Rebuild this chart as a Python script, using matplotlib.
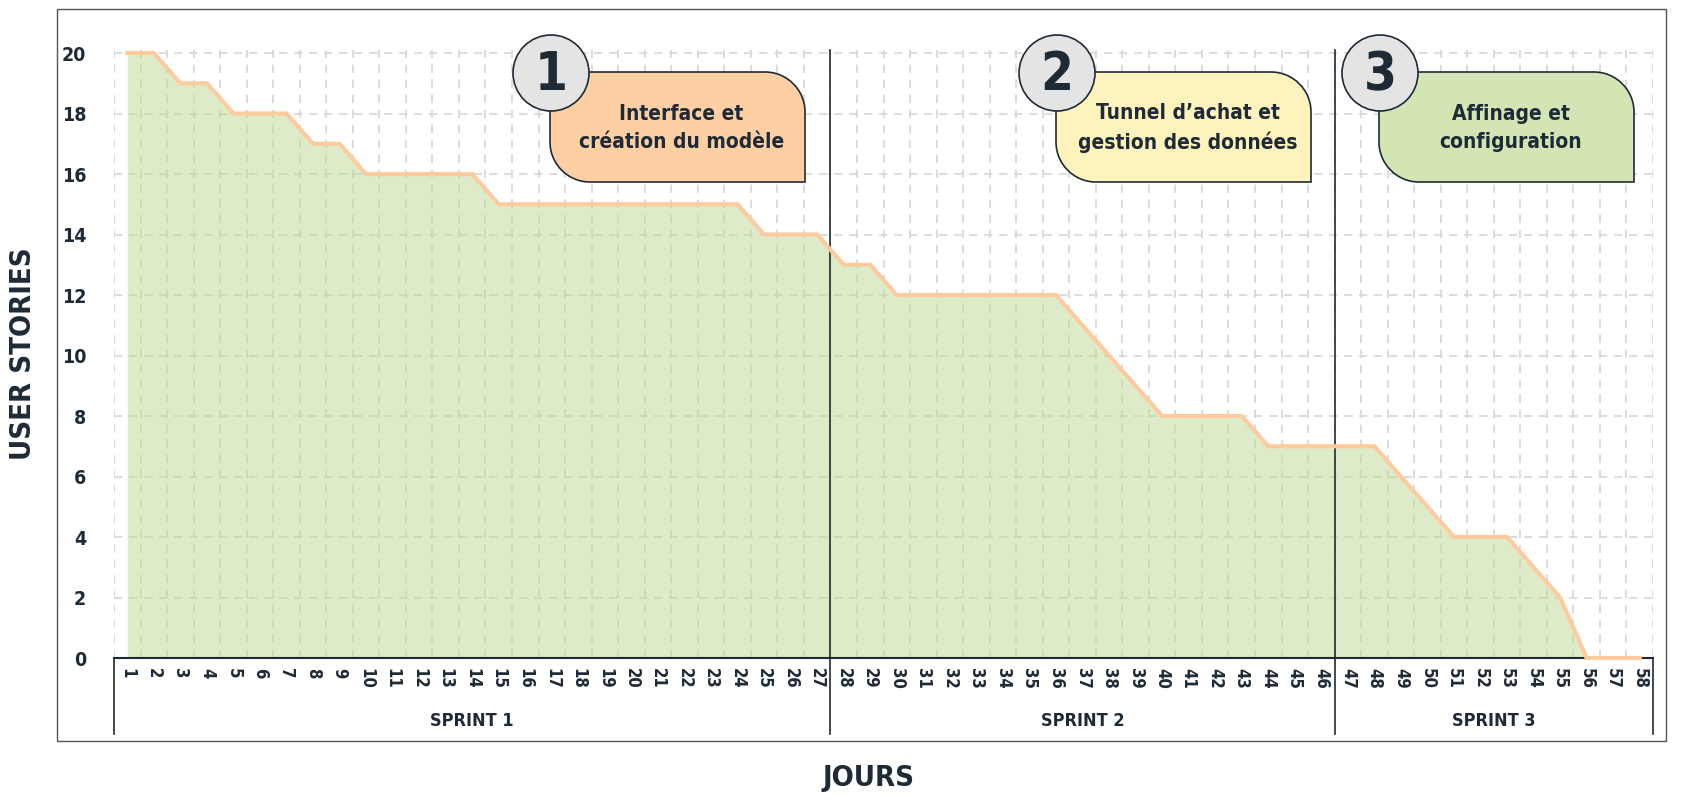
import matplotlib
matplotlib.use("Agg")
import matplotlib.pyplot as plt
import matplotlib.transforms as mtransforms
from matplotlib.patches import Rectangle, Circle, PathPatch
from matplotlib.path import Path

plt.rcParams['font.family'] = ['DejaVu Sans']
plt.rcParams['font.stretch'] = 'condensed'

# burndown data
days = list(range(1, 59))
stories = [20, 20, 19, 19, 18, 18, 18, 17, 17, 16,
           16, 16, 16, 16, 15, 15, 15, 15, 15, 15,
           15, 15, 15, 15, 14, 14, 14, 13, 13, 12,
           12, 12, 12, 12, 12, 12, 11, 10, 9, 8,
           8, 8, 8, 7, 7, 7, 7, 7, 6, 5,
           4, 4, 4, 3, 2, 0, 0, 0]

sprint_names = ["SPRINT 1", "SPRINT 2", "SPRINT 3"]
sprint_first = [1, 28, 47]
sprint_last = [27, 46, 58]

phase_nums = ["1", "2", "3"]
phase_texts = ["Interface et\ncréation du modèle",
               "Tunnel d\u2019achat et\ngestion des données",
               "Affinage et\nconfiguration"]
phase_colors = ["#fdcfa3", "#fef3bc", "#d3e5b2"]

W, H = 1685, 807
DARK = "#1f2a37"

fig = plt.figure(figsize=(W / 100, H / 100), dpi=100)
ax = fig.add_axes([114 / W, 1 - 658 / H, (1653 - 114) / W, (658 - 50) / H])

ax.fill_between(days, stories, 0, color="#bdd993", alpha=0.5, lw=0, zorder=2)
ax.plot(days, stories, color="#fdcb9e", lw=3, solid_joinstyle="miter",
        zorder=7, clip_on=False)

ax.set_xlim(0.5, 58.5)
ax.set_ylim(0, 20.1)
ax.set_yticks(range(0, 21, 2))
ax.set_xticks(days)
ax.set_xticklabels([str(d) for d in days], rotation=-90, fontsize=12,
                   fontweight="bold", color=DARK)
ax.tick_params(axis="x", length=0, pad=7)
ax.tick_params(axis="y", length=0, pad=20, labelsize=14, labelcolor=DARK)
for lab in ax.get_yticklabels():
    lab.set_fontweight("bold")

# grid
for y in range(2, 21, 2):
    ax.axhline(y, color="#d6d6d6", lw=1.2, ls=(0, (5, 4)), zorder=1)
for x in [d + 0.5 for d in [0] + days]:
    ax.axvline(x, color="#d6d6d6", lw=1.2, ls=(0, (5, 4)), zorder=1)

for s in ["top", "right", "left"]:
    ax.spines[s].set_visible(False)
ax.spines["bottom"].set_color(DARK)
ax.spines["bottom"].set_linewidth(1.5)
ax.spines["bottom"].set_zorder(5)

# sprint separators and labels
trans = mtransforms.blended_transform_factory(ax.transData, ax.transAxes)
bounds = [sprint_first[0] - 0.5] + [e + 0.5 for e in sprint_last]
for i, b in enumerate(bounds):
    top = 1.0 if 0 < i < len(bounds) - 1 else 0.0
    ax.plot([b, b], [top, -0.125], color=DARK, lw=1.2, transform=trans,
            clip_on=False, zorder=6)
for name, a, e in zip(sprint_names, sprint_first, sprint_last):
    ax.text((a + e) / 2, -0.103, name, transform=trans, ha="center", va="center",
            fontsize=13, color=DARK, fontweight="semibold")

ax.set_ylabel("USER STORIES", fontsize=21, fontweight="bold", color=DARK, labelpad=18)
fig.text(868 / W, 1 - 778 / H, "JOURS", fontsize=21, fontweight="bold",
         color=DARK, ha="center", va="center")

# outer frame + phase boxes (pixel overlay)
ov = fig.add_axes([0, 0, 1, 1], zorder=10)
ov.set_xlim(0, W)
ov.set_ylim(H, 0)
ov.axis("off")
ov.add_patch(Rectangle((57, 9), 1609, 732, fill=False, ec="#555555", lw=1))

box_x = [550, 1056, 1379]
box_w, y0, y1, r = 255, 72, 182, 40
k = 0.5523 * r
for x0, num, txt, col in zip(box_x, phase_nums, phase_texts, phase_colors):
    x1 = x0 + box_w
    verts = [(x0, y0), (x1 - r, y0),
             (x1 - r + k, y0), (x1, y0 + r - k), (x1, y0 + r),
             (x1, y1), (x0 + r, y1),
             (x0 + r - k, y1), (x0, y1 - r + k), (x0, y1 - r),
             (x0, y0)]
    codes = [Path.MOVETO, Path.LINETO,
             Path.CURVE4, Path.CURVE4, Path.CURVE4,
             Path.LINETO, Path.LINETO,
             Path.CURVE4, Path.CURVE4, Path.CURVE4,
             Path.CLOSEPOLY]
    ov.add_patch(PathPatch(Path(verts, codes), fc=col, ec=DARK, lw=1.2))
    ov.add_patch(Circle((x0 + 1, y0 + 1), 38, fc="#e4e4e4", ec=DARK, lw=1.2))
    ov.text(x0 + 1, y0 + 3, num, fontsize=38, fontweight="heavy", color=DARK,
            ha="center", va="center")
    ov.text(x0 + box_w / 2 + 4, (y0 + y1) / 2 + 1, txt, fontsize=15, fontweight="bold",
            color=DARK, ha="center", va="center", linespacing=1.5)

fig.savefig("out.png", dpi=100)
